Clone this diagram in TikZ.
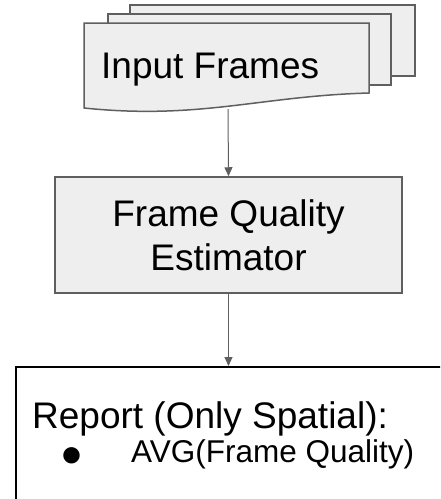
\documentclass[tikz,border=0pt]{standalone}
\usepackage{fontspec}
\setmainfont{Liberation Sans}
\usetikzlibrary{arrows.meta}
\definecolor{sheetgray}{HTML}{EEEEEE}
\definecolor{edgegray}{HTML}{5F5F5F}

\begin{document}
\begin{tikzpicture}[x=1pt,y=-1pt,
  sheet/.style={fill=sheetgray, draw=edgegray, line width=1.5pt},
  flow/.style={draw=edgegray, line width=1pt, -{Triangle[width=8pt,length=9pt]}},
  big/.style={font=\fontsize{37}{44}\selectfont, inner sep=0pt}]
\useasboundingbox (0,0) rectangle (440,499);
\clip (0,0) rectangle (440,499);
% stack of input frames
\filldraw[sheet] (130,5) rectangle (415,76);
\filldraw[sheet] (108,14) rectangle (391,85);
\filldraw[sheet] (84,23) -- (369,23) -- (369,93) .. controls (260,96) and (200,120) .. (84,108) -- cycle;
\node[big, anchor=base west] (frames) at (101,78) {Input Frames};
\coordinate (framesout) at (228,109);
% estimator
\node[sheet, big, align=center, minimum width=347pt, minimum height=116pt] (estimator) at (228.5,235) {Frame Quality\\Estimator};
% report
\node[draw=black, line width=2pt, fill=white, anchor=north west, minimum width=440pt, minimum height=160pt] (report) at (15,366) {};
\node[big, anchor=base west] (title) at (32,428) {Report (Only Spatial):};
\node[font=\fontsize{38}{44}\selectfont, inner sep=0pt] (dot) at (72,457) {●};
\node[font=\fontsize{31.5}{38}\selectfont, inner sep=0pt, anchor=base west] (avg) at (131,462) {AVG(Frame Quality)};
% connectors
\draw[flow] (framesout) -- (estimator.north);
\draw[flow] (estimator.south) -- (estimator.south |- report.north);
\end{tikzpicture}
\end{document}
